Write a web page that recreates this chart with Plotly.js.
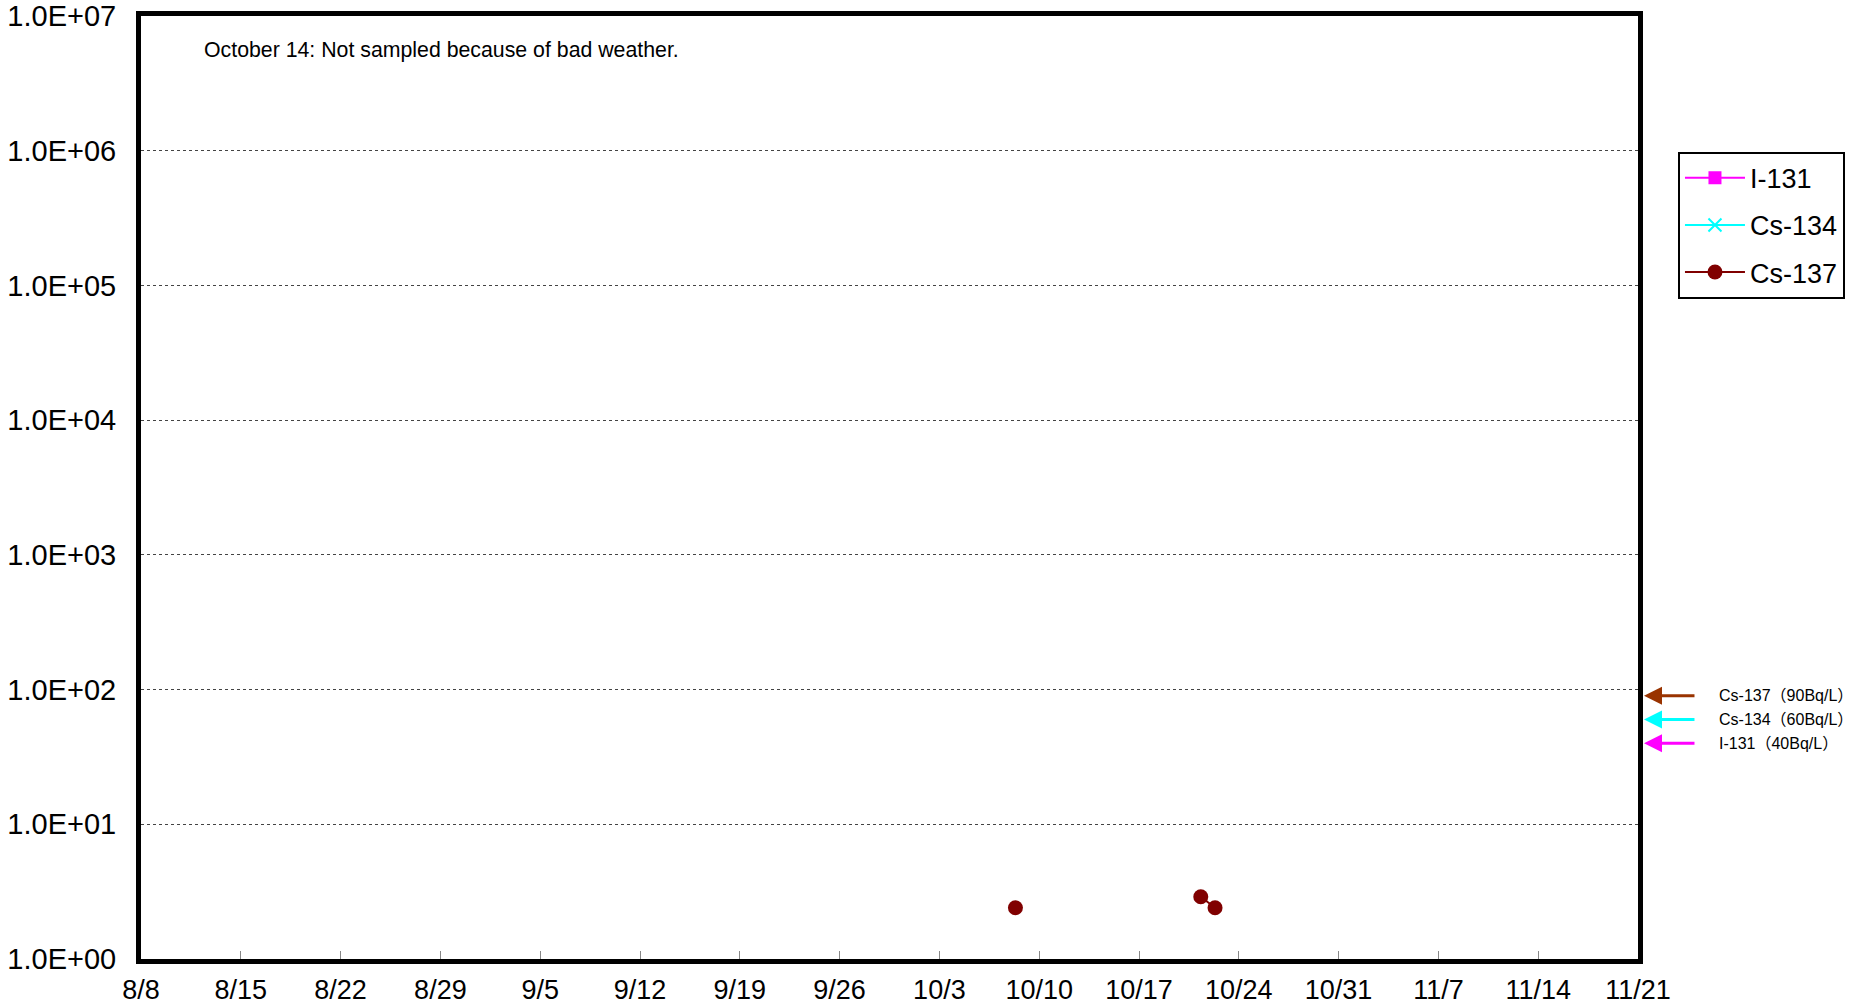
<!DOCTYPE html>
<html>
<head>
<meta charset="utf-8">
<script src="https://cdn.plot.ly/plotly-3.0.1.min.js"></script>
<style>html,body{margin:0;padding:0;background:#fff;}#chart{width:1852px;height:1005px;}</style>
</head>
<body>
<div id="chart"></div>
<script>
// Sampling dates/times and measured concentrations (Bq/L); null = not detected
const dates = ['2011-10-08 08:00', '2011-10-15 08:00', '2011-10-21 08:00', '2011-10-22 08:00'];
const i131 = [null, null, null, null];
const cs134 = [null, null, null, null];
const cs137 = [2.4, null, 2.9, 2.4];

// Axis ticks
const xTickDates = ['2011-08-08','2011-08-15','2011-08-22','2011-08-29','2011-09-05','2011-09-12','2011-09-19','2011-09-26','2011-10-03','2011-10-10','2011-10-17','2011-10-24','2011-10-31','2011-11-07','2011-11-14','2011-11-21'];
const xTickLabels = ['8/8','8/15','8/22','8/29','9/5','9/12','9/19','9/26','10/3','10/10','10/17','10/24','10/31','11/7','11/14','11/21'];
const yTickVals = [1, 10, 100, 1000, 10000, 100000, 1000000, 10000000];
const yTickLabels = ['1.0E+00','1.0E+01','1.0E+02','1.0E+03','1.0E+04','1.0E+05','1.0E+06','1.0E+07'];

// Regulatory limits shown as arrows
const limitNames = ['Cs-137', 'Cs-134', 'I-131'];
const limitValues = [90, 60, 40];
const limitLabels = ['Cs-137（90Bq/L）', 'Cs-134（60Bq/L）', 'I-131（40Bq/L）'];
const limitColors = ['#993300', '#00FFFF', '#FF00FF'];

const note = 'October 14: Not sampled because of bad weather.';

const FONT = 'Liberation Sans, Arial, Noto Sans CJK JP, sans-serif';

const traces = [
  {x: dates, y: i131, name: 'I-131', type: 'scatter', mode: 'lines+markers', legendgroup: 'a',
   line: {color: '#FF00FF', width: 2}, marker: {symbol: 'square', size: 13, color: '#FF00FF'}},
  {x: dates, y: cs134, name: 'Cs-134', type: 'scatter', mode: 'lines+markers', legendgroup: 'b',
   line: {color: '#00FFFF', width: 2}, marker: {symbol: 'x-thin', size: 13, color: '#00FFFF', line: {color: '#00FFFF', width: 2}}},
  {x: dates, y: cs137, name: 'Cs-137', type: 'scatter', mode: 'lines+markers', legendgroup: 'c',
   line: {color: '#800000', width: 2}, marker: {symbol: 'circle', size: 15, color: '#800000'}}
];

const annotations = [
  {xref: 'paper', yref: 'paper', x: 0.041, y: 0.964, xanchor: 'left', yanchor: 'middle',
   text: note, showarrow: false, font: {family: FONT, size: 21.3, color: '#000'}}
];
limitValues.forEach((v, i) => {
  annotations.push({xref: 'paper', yref: 'y', x: 1.004, y: Math.log10(v), text: ' ',
    showarrow: true, ax: 56, ay: 0, arrowhead: 2, arrowsize: 1.2, arrowwidth: 3,
    arrowcolor: limitColors[i], standoff: 0, startstandoff: 0});
  annotations.push({xref: 'paper', yref: 'y', x: 1.0525, y: Math.log10(v), text: limitLabels[i],
    showarrow: false, xanchor: 'left', yanchor: 'middle',
    font: {family: FONT, size: 16, color: '#000'}});
});

const layout = {
  width: 1852, height: 1005,
  margin: {l: 141, r: 214, t: 16, b: 46, autoexpand: false},
  paper_bgcolor: '#fff', plot_bgcolor: '#fff',
  font: {family: FONT, size: 27, color: '#000'},
  showlegend: true,
  legend: {x: 1.0267, y: 0.856, xanchor: 'left', yanchor: 'top',
    traceorder: 'grouped', tracegroupgap: 9, itemwidth: 60,
    bordercolor: '#000', borderwidth: 2, bgcolor: '#fff',
    font: {family: FONT, size: 27, color: '#000'}},
  xaxis: {type: 'date', range: ['2011-08-08', '2011-11-21'],
    tickmode: 'array', tickvals: xTickDates, ticktext: xTickLabels,
    ticks: 'inside', ticklen: 8, tickwidth: 1, tickcolor: '#888',
    showline: true, linewidth: 5, linecolor: '#000', mirror: true,
    showgrid: false, zeroline: false, ticklabelstandoff: 3,
    tickfont: {family: FONT, size: 27, color: '#000'}},
  yaxis: {type: 'log', range: [0, 7],
    tickmode: 'array', tickvals: yTickVals, ticktext: yTickLabels,
    ticks: '', showline: true, linewidth: 5, linecolor: '#000', mirror: true,
    showgrid: true, gridcolor: '#444', gridwidth: 1, griddash: 'dot',
    zeroline: false, ticklabelstandoff: 14,
    tickfont: {family: FONT, size: 29, color: '#000'}},
  annotations: annotations
};

Plotly.newPlot('chart', traces, layout, {displayModeBar: false, staticPlot: true});
</script>
</body>
</html>
